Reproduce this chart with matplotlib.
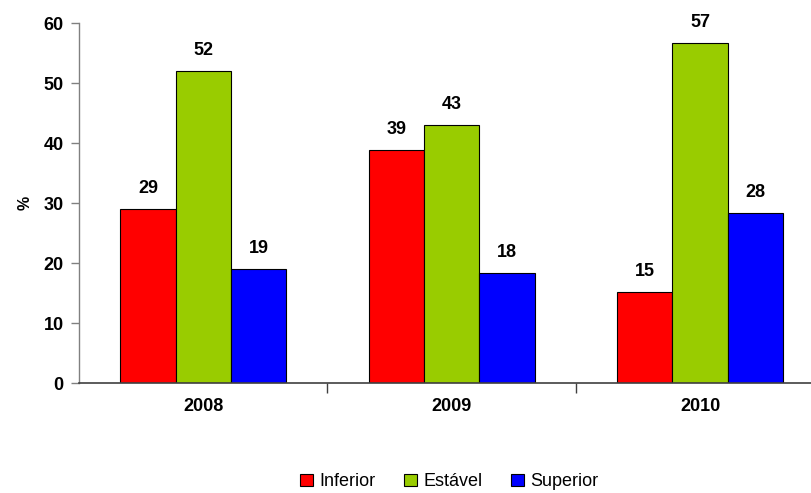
import numpy as np
import matplotlib.pyplot as plt

plt.rcParams['font.family'] = ['Liberation Sans', 'DejaVu Sans']

anos = ['2008', '2009', '2010']
series = ['Inferior', 'Estável', 'Superior']
inferior = [29.0, 38.8, 15.2]
estavel = [52.0, 43.0, 56.7]
superior = [19.0, 18.3, 28.3]
cores = ['#FF0000', '#99CC00', '#0000FF']

fig = plt.figure(figsize=(8.11, 4.93), dpi=100)
ax = fig.add_axes([0.0974, 0.2231, 0.919, 0.7302])

x = np.arange(len(anos))
w = 0.2225
valores = [inferior, estavel, superior]
for i, (nome, vals, cor) in enumerate(zip(series, valores, cores)):
    barras = ax.bar(x + (i - 1) * w, vals, w, color=cor, edgecolor='black',
                    linewidth=0.8, label=nome)
    for b, v in zip(barras, vals):
        ax.text(b.get_x() + b.get_width() / 2, v + 2.0, f'{round(v):d}',
                ha='center', va='bottom', fontsize=13, fontweight='bold')

ax.set_xlim(-0.5, 2.5)
ax.set_ylim(0, 60)
ax.set_yticks(range(0, 61, 10))
ax.set_xticks(x)
ax.set_xticklabels(anos, fontsize=13, fontweight='bold')
ax.set_xticks([0.5, 1.5], minor=True)
ax.tick_params(axis='x', which='major', length=0, pad=11)
ax.tick_params(axis='x', which='minor', length=7, color='#404040', width=1)
ax.tick_params(axis='y', length=6, color='#808080', width=1, pad=5)
for lab in ax.get_yticklabels():
    lab.set_fontweight('bold')
    lab.set_fontsize(13)
ax.set_ylabel('%', fontsize=11.5, fontweight='bold', labelpad=8)

for s in ['top', 'right']:
    ax.spines[s].set_visible(False)
ax.spines['left'].set_color('#808080')
ax.spines['bottom'].set_color('#404040')
ax.spines['left'].set_linewidth(1)
ax.spines['bottom'].set_linewidth(1.2)

fig.legend(loc='center', bbox_to_anchor=(0.554, 0.023), ncol=3, frameon=False,
           fontsize=13, handlelength=0.7, handleheight=0.7,
           handletextpad=0.35, columnspacing=1.6)

fig.savefig('out.png', dpi=100)
